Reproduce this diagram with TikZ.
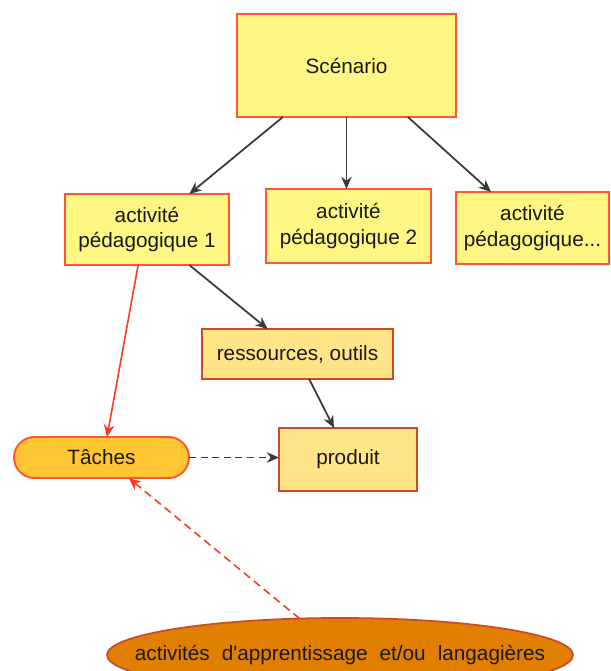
\documentclass[tikz,border=0pt]{standalone}
\usepackage{fontspec}
\setmainfont{Liberation Sans}
\newfontfamily\learnfont{Liberation Sans}
\usepackage{tikz}
\usetikzlibrary{positioning,arrows.meta,shapes.geometric}
\tikzset{>={Stealth[length=7pt,width=6pt]}}
\definecolor{paleyellow}{HTML}{FFF683}
\definecolor{sandyellow}{HTML}{FFE488}
\definecolor{taskorange}{HTML}{FFC533}
\definecolor{deeporange}{HTML}{E07F00}
\definecolor{redline}{HTML}{FF5533}
\definecolor{brownline}{HTML}{CC4A2A}
\definecolor{darkarrow}{HTML}{3A3A3A}
\definecolor{redarrow}{HTML}{F23D22}

\begin{document}
\begin{tikzpicture}[
font=\fontsize{11.8pt}{14.6pt}\selectfont,
block/.style={rectangle, draw=redline, line width=1.1pt, fill=paleyellow, text=black!90, align=center, inner sep=0pt, outer sep=0pt},
resblock/.style={block, draw=brownline, fill=sandyellow},
taskblock/.style={block, fill=taskorange, rounded corners=0.41cm},
learnblock/.style={ellipse, draw=brownline, line width=1pt, fill=deeporange, text=black!90, inner sep=0pt, outer sep=0pt},
link/.style={->, darkarrow, line width=1pt},
redlink/.style={->, redarrow, line width=0.9pt}
]
\clip (-6.93,1.31) rectangle (5.27,-12.11);
\node (scenario) [block, minimum width=4.38cm, minimum height=2.06cm] {Scénario};
\node (act2) [block, below=1.44cm of scenario, xshift=0.04cm, minimum width=3.3cm, minimum height=1.48cm] {activité\\pédagogique 2};
\node (act1) [block, left=0.74cm of act2, yshift=-0.07cm, minimum width=3.28cm, minimum height=1.42cm] {activité\\pédagogique 1};
\node (act3) [block, right=0.5cm of act2, yshift=-0.04cm, minimum width=3.06cm, minimum height=1.44cm] {activité\\pédagogique...};
\node (res) [resblock, below=1.28cm of act1, xshift=3.01cm, minimum width=3.82cm, minimum height=1cm] {ressources, outils};
\node (prod) [resblock, below=0.98cm of res, xshift=1.01cm, minimum width=2.76cm, minimum height=1.26cm] {produit};
\node (taches) [taskblock, left=1.8cm of prod, yshift=0.04cm, minimum width=3.5cm, minimum height=0.82cm] {Tâches};
\node (appr) [learnblock, below=2.8cm of taches, xshift=4.77cm, minimum width=9.32cm, minimum height=1.48cm] {\makebox[0pt]{\learnfont\spaceskip=0.58em\relax activités d'apprentissage et/ou langagières}};

\draw [link] (scenario.219) -- (act1.40);
\draw [link] (scenario.south) -- (scenario.south |- act2.north);
\draw [link] (scenario.320) -- (act3.139);
\draw [link] (act1.320) -- (res.140);
\draw [link] (res.295) -- (prod.114);
\draw [redlink] (act1.256) -- (taches.75);
\draw [link, dash pattern=on 4pt off 2.6pt] (taches.east) -- (taches.east -| prod.west);
\draw [redlink, dash pattern=on 4.5pt off 2.8pt] (appr.138) -- (taches.323);
\end{tikzpicture}
\end{document}
